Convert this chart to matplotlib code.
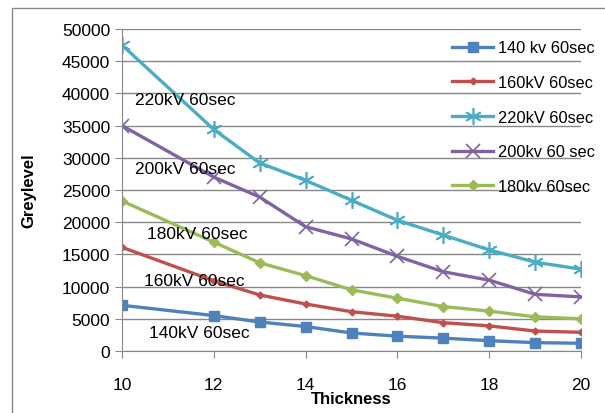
import matplotlib
matplotlib.use("Agg")
import matplotlib.pyplot as plt
from matplotlib.patches import Rectangle

plt.rcParams['font.family'] = ['Liberation Sans', 'DejaVu Sans']

thickness = [10, 12, 13, 14, 15, 16, 17, 18, 19, 20]

kv140 = [7100, 5500, 4500, 3800, 2800, 2300, 2000, 1600, 1300, 1200]
kv160 = [16100, 10900, 8700, 7300, 6100, 5400, 4400, 3900, 3100, 2900]
kv220 = [47500, 34400, 29200, 26500, 23400, 20300, 18000, 15700, 13800, 12700]
kv200 = [35000, 27000, 23900, 19300, 17400, 14700, 12300, 11000, 8800, 8400]
kv180 = [23300, 16900, 13700, 11700, 9500, 8200, 6900, 6200, 5300, 5000]

series_labels = ['140 kv 60sec', '160kV 60sec', '220kV 60sec', '200kv 60 sec', '180kv 60sec']
series_colors = ['#4F81BD', '#C0504D', '#4BACC6', '#8064A2', '#9BBB59']

# inline labels (x, y, text)
note_x = [10.28, 10.28, 10.54, 10.48, 10.59]
note_y = [39000, 28400, 18200, 11000, 2950]
note_text = ['220kV 60sec', '200kV 60sec', '180kV 60sec', '160kV 60sec', '140kV 60sec']

fs = 12.5

fig = plt.figure(figsize=(6.05, 4.14), dpi=100)
fig.patches.append(Rectangle((12 / 605, -0.1), 1.2, (414 - 9) / 414 + 0.1,
                             transform=fig.transFigure, fill=False,
                             edgecolor='#888888', linewidth=1))
ax = fig.add_axes([122 / 605, 62 / 414, 459 / 605, 322 / 414])

lw = 2.4
ax.plot(thickness, kv140, color=series_colors[0], lw=lw, marker='s', ms=6.5, label=series_labels[0])
ax.plot(thickness, kv160, color=series_colors[1], lw=lw, marker='D', ms=3.5, label=series_labels[1])
ax.plot(thickness, kv220, color=series_colors[2], lw=lw, marker=(6, 2, 0), ms=12, mew=1.2,
        label=series_labels[2])
ax.plot(thickness, kv200, color=series_colors[3], lw=lw, marker='x', ms=10, mew=1.2, label=series_labels[3])
ax.plot(thickness, kv180, color=series_colors[4], lw=lw, marker='D', ms=5.5, label=series_labels[4])

for x, y, t in zip(note_x, note_y, note_text):
    ax.text(x, y, t, fontsize=fs, va='center', ha='left')

ax.set_xlim(10, 20)
ax.set_ylim(0, 50000)
ax.set_xticks([10, 12, 14, 16, 18, 20])
ax.set_yticks(range(0, 50001, 5000))
ax.tick_params(axis='both', labelsize=fs, color='#888888', length=5)
ax.tick_params(axis='x', pad=14)
ax.yaxis.grid(True, color='#888888', lw=1)
ax.set_axisbelow(True)
for s in ['top', 'right']:
    ax.spines[s].set_visible(False)
for s in ['left', 'bottom']:
    ax.spines[s].set_color('#888888')

ax.set_xlabel('Thickness', fontsize=fs - 0.5, fontweight='bold', labelpad=-1)
ax.set_ylabel('Greylevel', fontsize=fs - 0.5, fontweight='bold', labelpad=18)

ax.legend(loc='upper left', bbox_to_anchor=(0.705, 0.985), frameon=False, fontsize=11.8,
          labelspacing=1.2, handlelength=2.5, handletextpad=0.3, borderaxespad=0)

fig.savefig('out.png', dpi=100)
